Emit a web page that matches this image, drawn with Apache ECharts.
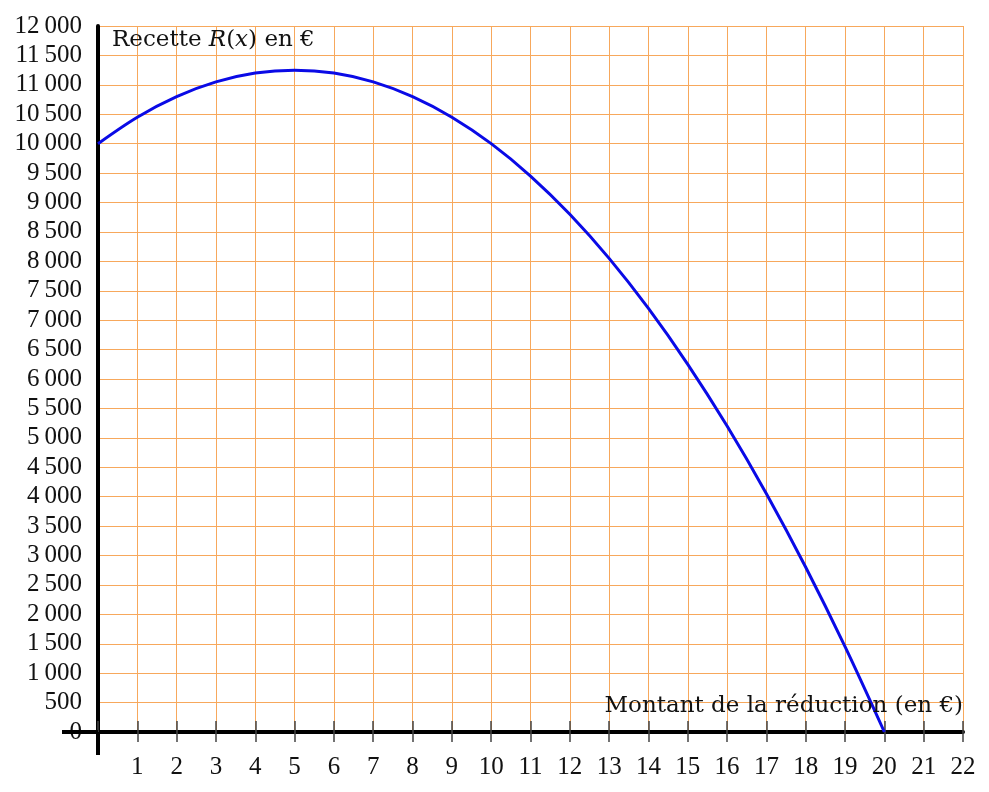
<!DOCTYPE html>
<html>
<head>
<meta charset="utf-8">
<script src="https://cdn.jsdelivr.net/npm/echarts@6/dist/echarts.min.js"></script>
<style>
  html, body { margin: 0; padding: 0; background: #fff; }
  #chart { width: 989px; height: 792px; }
</style>
</head>
<body>
<div id="chart"></div>
<script>
// montant de la réduction (en €)
const reductions = [0, 1, 2, 3, 4, 5, 6, 7, 8, 9, 10, 11, 12, 13, 14, 15, 16, 17, 18, 19, 20];
// recette R(x)
const recettes = [10000, 10450, 10800, 11050, 11200, 11250, 11200, 11050, 10800, 10450,
                  10000, 9450, 8800, 8050, 7200, 6250, 5200, 4050, 2800, 1450, 0];

const xMin = 0, xMax = 22, xStep = 1;
const yMin = 0, yMax = 12000, yStep = 500;

const numFont = '"Liberation Serif", serif';
const textFont = '"DejaVu Serif", serif';
const gridColor = '#f7a85c';

function fmt(v) {
    // séparateur de milliers : espace fine
    return String(v).replace(/\B(?=(\d{3})+(?!\d))/g, '\u2009');
}

const chart = echarts.init(document.getElementById('chart'));

const option = {
    animation: false,
    grid: { left: 98, right: 26, top: 26, bottom: 60 },
    xAxis: [{
        type: 'value',
        min: xMin, max: xMax, interval: xStep,
        axisLine: { show: true, lineStyle: { color: '#000', width: 4 } },
        axisTick: { show: true, inside: false, length: 10, lineStyle: { color: '#444', width: 1.5 } },
        axisLabel: {
            margin: 23, color: '#111', fontFamily: numFont, fontSize: 25,
            formatter: v => (v === 0 ? '' : fmt(v))
        },
        splitLine: { show: true, lineStyle: { color: gridColor, width: 1 } }
    }, {
        type: 'value',
        position: 'bottom',
        min: xMin, max: xMax, interval: xStep,
        axisLine: { show: false },
        axisTick: { show: true, inside: true, length: 11, lineStyle: { color: '#444', width: 1.5 } },
        axisLabel: { show: false },
        splitLine: { show: false }
    }],
    yAxis: {
        type: 'value',
        min: yMin, max: yMax, interval: yStep,
        axisLine: { show: true, onZero: false, lineStyle: { color: '#000', width: 4 } },
        axisTick: { show: false },
        axisLabel: {
            margin: 16, color: '#111', fontFamily: numFont, fontSize: 25,
            formatter: v => fmt(v)
        },
        splitLine: { show: true, lineStyle: { color: gridColor, width: 1 } }
    },
    series: [{
        type: 'line',
        xAxisIndex: 0,
        data: reductions.map((x, i) => [x, recettes[i]]),
        smooth: 0.33,
        showSymbol: false,
        lineStyle: { color: '#0a0ae6', width: 3 },
        z: 5
    }]
};

chart.setOption(option);

// prolongements des axes et titres, placés via les échelles du graphique
const origin = chart.convertToPixel({ xAxisIndex: 0, yAxisIndex: 0 }, [0, 0]);
const topLeft = chart.convertToPixel({ xAxisIndex: 0, yAxisIndex: 0 }, [0, yMax]);
const bottomRight = chart.convertToPixel({ xAxisIndex: 0, yAxisIndex: 0 }, [xMax, 0]);

chart.setOption({
    graphic: [
        { type: 'line', shape: { x1: origin[0] - 36, y1: origin[1], x2: origin[0], y2: origin[1] },
          style: { stroke: '#000', lineWidth: 4 }, z: 10 },
        { type: 'line', shape: { x1: origin[0], y1: origin[1], x2: origin[0], y2: origin[1] + 23 },
          style: { stroke: '#000', lineWidth: 4 }, z: 10 },
        { type: 'text', x: origin[0] + 14, y: topLeft[1] + 14, z: 10,
          style: {
              text: '{n|Recette }{i|R}{n|(}{i|x}{n|) en €}',
              verticalAlign: 'middle',
              rich: {
                  n: { fontFamily: textFont, fontSize: 23, fill: '#111' },
                  i: { fontFamily: textFont, fontSize: 23, fontStyle: 'italic', fill: '#111' }
              }
          } },
        { type: 'text', x: bottomRight[0], y: origin[1] - 26, z: 10,
          style: {
              text: 'Montant de la réduction (en €)', align: 'right', verticalAlign: 'middle',
              fontFamily: textFont, fontSize: 23, fill: '#111'
          } }
    ]
});
</script>
</body>
</html>
